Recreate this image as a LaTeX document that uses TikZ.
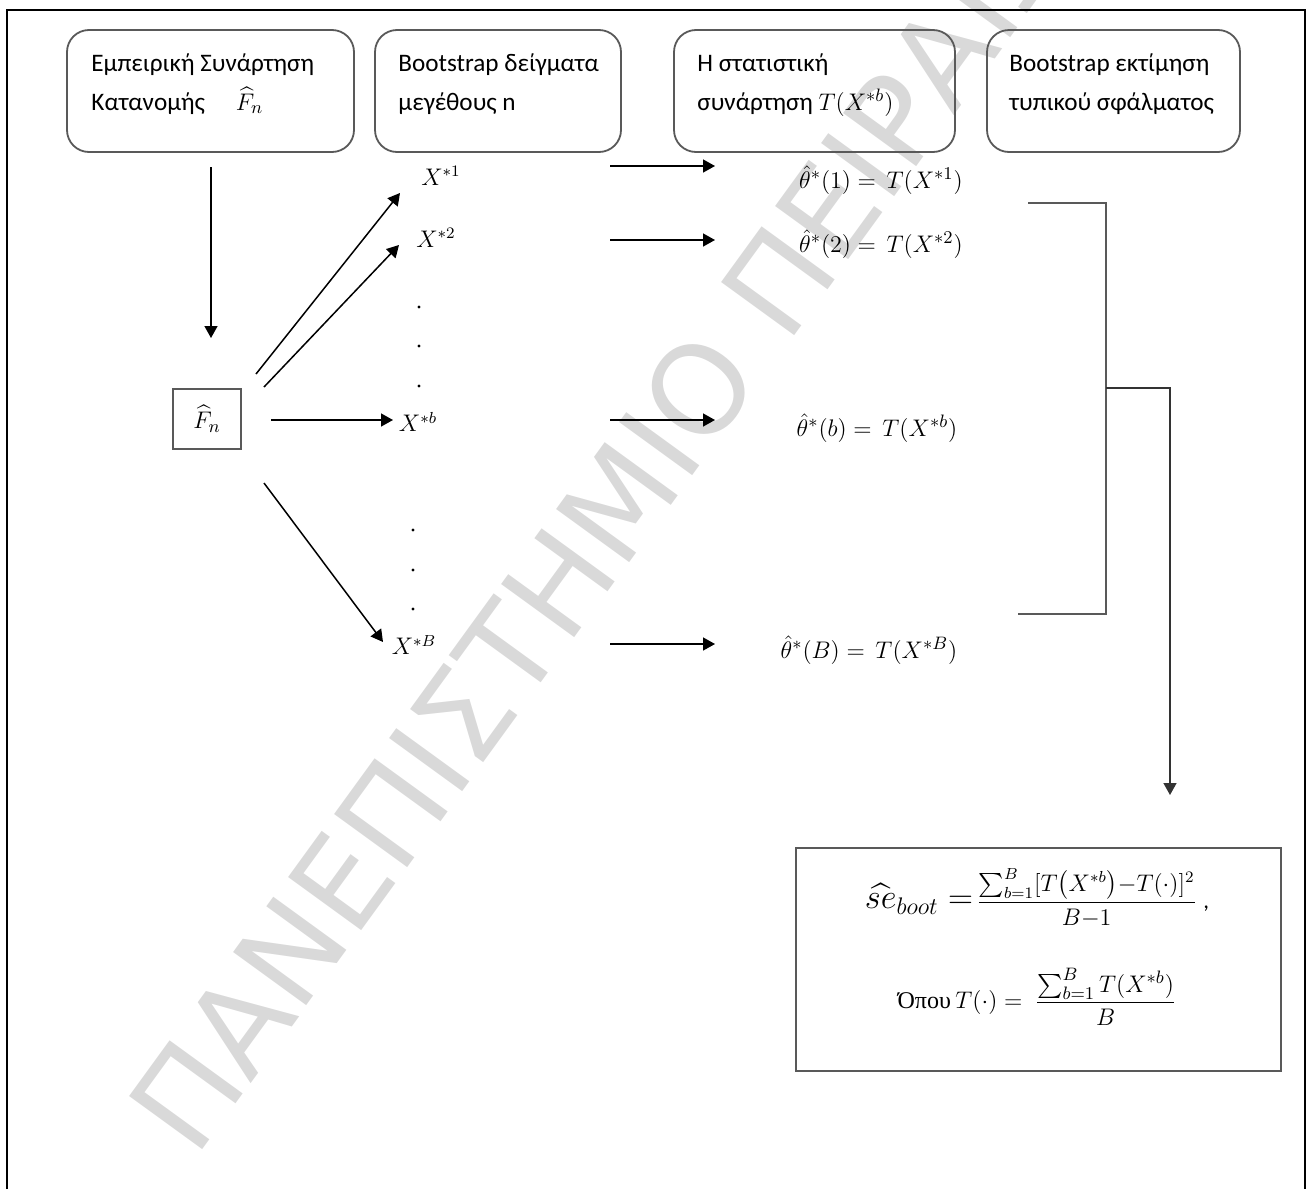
\documentclass[tikz,border=0pt]{standalone}
\usepackage{amsmath}
\usepackage{fontspec}
\setmainfont{Carlito}
\newfontfamily\wmfont{DejaVu Sans}
\newfontfamily\grserif{Liberation Serif}
\usetikzlibrary{arrows.meta}
\tikzset{
  hbox/.style={draw=black!65, line width=0.9pt, rounded corners=11pt, minimum height=61pt, inner sep=0pt},
  htext/.style={anchor=north west, align=left, inner sep=0pt, font=\fontsize{12.6}{19.5}\selectfont},
  sqbox/.style={draw=black!65, line width=0.8pt, minimum width=34pt, minimum height=30pt, inner sep=0pt, font=\fontsize{13}{16}\selectfont},
  mlabel/.style={inner sep=0pt, font=\fontsize{13}{15}\selectfont},
  xlabel/.style={inner sep=0pt, font=\fontsize{12}{14}\selectfont},
  arr/.style={line width=0.75pt, -{Triangle[length=6pt,width=6.5pt]}},
  brk/.style={draw=black!65, line width=0.8pt},
  dotn/.style={circle, fill=black, inner sep=0pt, minimum size=1.6pt},
  wm/.style={text=black!15, inner sep=0pt, font=\wmfont\fontsize{62}{62}\selectfont}
}
\begin{document}
\begin{tikzpicture}[x=0.5pt,y=-0.5pt]
\useasboundingbox (0,0) rectangle (1312,1189);
% watermark
\begin{scope}
\clip (0,0) rectangle (1312,1189);
\node[wm, rotate=54, anchor=base west] (wm) at (195,1160) {ΠΑΝΕΠΙΣΤΗΜΙΟ ΠΕΙΡΑΙΩΣ};
\end{scope}
% frame
\draw[line width=1pt] (7,1189) -- (7,10) -- (1305,10) -- (1305,1189);
% header boxes
\node[hbox, minimum width=143.5pt] (h1) at (210.5,91) {};
\node[hbox, minimum width=123pt] (h2) at (498,91) {};
\node[hbox, minimum width=140.5pt] (h3) at (814.5,91) {};
\node[hbox, minimum width=126.5pt] (h4) at (1113.5,91) {};
\node[htext] (h1t) at (91,53) {Εμπειρική Συνάρτηση\\Κατανομής \quad $\widehat{F}_n$};
\node[htext] (h2t) at (398,53) {Bootstrap δείγματα\\μεγέθους n};
\node[htext] (h3t) at (697,53) {Η στατιστική\\συνάρτηση $T(X^{*b})$};
\node[htext] (h4t) at (1009,53) {Bootstrap εκτίμηση\\τυπικού σφάλματος};
% Fn box
\node[sqbox] (fn) at (207,419) {$\widehat{F}_n$};
% X labels
\node[xlabel] (x1) at (441,176) {$X^{*1}$};
\node[xlabel] (x2) at (436,238) {$X^{*2}$};
\node[xlabel] (xb) at (418,422) {$X^{*b}$};
\node[xlabel] (xB) at (414,645) {$X^{*B}$};
% dots
\node[dotn] (d1) at (419,307) {};
\node[dotn] (d2) at (419,346) {};
\node[dotn] (d3) at (419,386) {};
\node[dotn] (d4) at (413,530) {};
\node[dotn] (d5) at (413,570) {};
\node[dotn] (d6) at (413,609) {};
% theta labels
\node[mlabel] (t1) at (881,180) {$\hat{\theta}^{*}(1) =\, T(X^{*1})$};
\node[mlabel] (t2) at (881,244) {$\hat{\theta}^{*}(2) =\, T(X^{*2})$};
\node[mlabel] (tb) at (877,428) {$\hat{\theta}^{*}(b) =\, T(X^{*b})$};
\node[mlabel] (tB) at (869,650) {$\hat{\theta}^{*}(B) =\, T(X^{*B})$};
% formula box
\node[draw=black!65, line width=0.8pt, minimum width=242.5pt, minimum height=111.5pt] (fbox) at (1038.5,959.5) {};
\node[inner sep=0pt] (f1) at (1037,898) {{\fontsize{18}{18}\selectfont$\widehat{se}_{boot}=$}\,{\fontsize{11.5}{14}\selectfont$\displaystyle\frac{\sum_{b=1}^{B}[T\bigl(X^{*b}\bigr){-}T(\cdot)]^2}{B{-}1}$\;,}};
\node[inner sep=0pt] (f2) at (1037,997) {{\grserif\fontsize{12}{14}\selectfont Όπου} {\fontsize{13}{15}\selectfont$T(\cdot) =\ \displaystyle\frac{\sum_{b=1}^{B}T(X^{*b})}{B}$}};
% coordinates for arrows
\coordinate (a0s) at (211,167); \coordinate (a0e) at (211,338);
\coordinate (a1s) at (256,374); \coordinate (a1e) at (400,193);
\coordinate (a2s) at (264,387); \coordinate (a2e) at (399,245);
\coordinate (a3s) at (271,420); \coordinate (a3e) at (393,420);
\coordinate (a4s) at (264,483); \coordinate (a4e) at (383,642);
\coordinate (b1s) at (610,166); \coordinate (b1e) at (715,166);
\coordinate (b2s) at (610,240); \coordinate (b2e) at (715,240);
\coordinate (b3s) at (610,420); \coordinate (b3e) at (715,420);
\coordinate (b4s) at (610,644); \coordinate (b4e) at (715,644);
\coordinate (k1) at (1028,203); \coordinate (k2) at (1106,203);
\coordinate (k3) at (1106,614); \coordinate (k4) at (1018,614);
\coordinate (k5) at (1106,388); \coordinate (k6) at (1170,388);
\coordinate (k7) at (1170,795);
\draw[arr] (a0s) -- (a0e);
\draw[arr] (a1s) -- (a1e);
\draw[arr] (a2s) -- (a2e);
\draw[arr] (a3s) -- (a3e);
\draw[arr] (a4s) -- (a4e);
\draw[arr] (b1s) -- (b1e);
\draw[arr] (b2s) -- (b2e);
\draw[arr] (b3s) -- (b3e);
\draw[arr] (b4s) -- (b4e);
\draw[brk] (k1) -- (k2) -- (k3) -- (k4);
\draw[arr, draw=black!80] (k5) -- (k6) -- (k7);
\end{tikzpicture}
\end{document}
